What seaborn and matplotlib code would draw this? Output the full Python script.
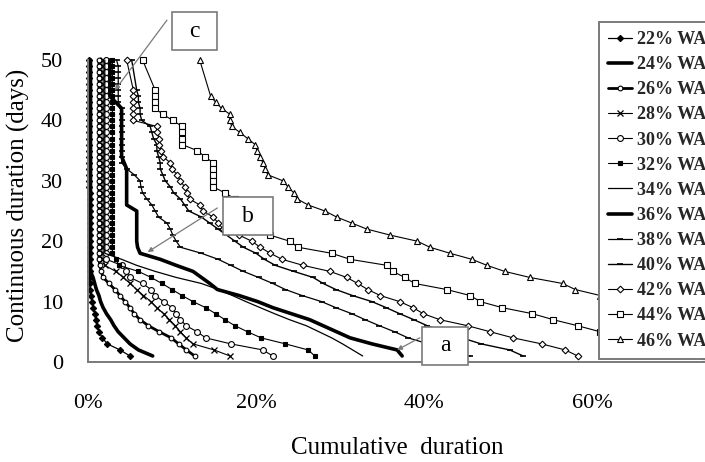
import matplotlib
matplotlib.use("Agg")
import matplotlib.pyplot as plt
from matplotlib.patches import Rectangle
import pandas as pd
import seaborn as sns

N = None

# Continuous duration thresholds (days), top of the curve first
DAYS = [50, 49, 48, 47, 46, 45, 44, 43, 42, 41,
        40, 39, 38, 37, 36, 35, 34, 33, 32, 31,
        30, 29, 28, 27, 26, 25, 24, 23, 22, 21,
        20, 19, 18, 17, 16, 15, 14, 13, 12, 11,
        10, 9, 8, 7, 6, 5, 4, 3, 2, 1]

LABELS = ["22% WA", "24% WA", "26% WA", "28% WA", "30% WA", "32% WA", "34% WA",
          "36% WA", "38% WA", "40% WA", "42% WA", "44% WA", "46% WA"]

# Cumulative duration (%) for each threshold in DAYS
wa22 = [0.1, 0.1, 0.1, 0.1, 0.1, 0.1, 0.1, 0.1, 0.1, 0.1,
        0.1, 0.1, 0.1, 0.1, 0.1, 0.1, 0.1, 0.1, 0.1, 0.1,
        0.1, 0.1, 0.2, 0.2, 0.2, 0.2, 0.2, 0.2, 0.2, 0.2,
        0.2, 0.2, 0.2, 0.2, 0.2, 0.2, 0.2, 0.2, 0.25, 0.3,
        0.5, 0.6, 0.8, 0.9, 1.1, 1.3, 1.7, 2.3, 3.8, 5.0]
wa24 = [0.3, 0.3, 0.3, 0.3, 0.3, 0.3, 0.3, 0.3, 0.3, 0.3,
        0.3, 0.3, 0.3, 0.3, 0.3, 0.3, 0.3, 0.3, 0.3, 0.3,
        0.3, 0.3, 0.3, 0.3, 0.3, 0.3, 0.3, 0.3, 0.3, 0.3,
        0.3, 0.3, 0.3, 0.3, 0.3, 0.3, 0.6, 0.8, 1.0, 1.3,
        1.5, 1.8, 2.2, 2.7, 3.1, 3.6, 4.3, 5.0, 6.0, 7.7]
wa26 = [1.3, 1.3, 1.3, 1.3, 1.3, 1.3, 1.3, 1.3, 1.3, 1.3,
        1.3, 1.3, 1.3, 1.3, 1.3, 1.3, 1.3, 1.3, 1.3, 1.3,
        1.3, 1.3, 1.3, 1.3, 1.3, 1.3, 1.3, 1.3, 1.3, 1.3,
        1.3, 1.3, 1.3, 1.3, 1.4, 1.6, 1.8, 2.5, 3.2, 3.8,
        4.4, 5.0, 5.5, 6.2, 7.2, 8.5, 9.9, 10.8, 11.7, 12.7]
wa28 = [1.8, 1.8, 1.8, 1.8, 1.8, 1.8, 1.8, 1.8, 1.8, 1.8,
        1.8, 1.8, 1.8, 1.8, 1.8, 1.8, 1.8, 1.8, 1.8, 1.8,
        1.8, 1.8, 1.8, 1.8, 1.8, 1.8, 1.8, 1.8, 1.8, 1.8,
        1.8, 1.8, 1.8, 1.8, 2.0, 3.3, 4.2, 5.0, 5.8, 6.6,
        7.5, 8.2, 9.0, 9.7, 10.4, 11.0, 11.7, 12.5, 15.0, 16.9]
wa30 = [2.2, 2.2, 2.2, 2.2, 2.2, 2.2, 2.2, 2.2, 2.2, 2.2,
        2.2, 2.2, 2.2, 2.2, 2.2, 2.2, 2.2, 2.2, 2.2, 2.2,
        2.2, 2.2, 2.2, 2.2, 2.2, 2.2, 2.2, 2.2, 2.2, 2.2,
        2.2, 2.2, 2.2, 2.2, 4.0, 4.5, 5.0, 6.5, 7.5, 8.0,
        9.0, 10.0, 10.5, 11.0, 11.7, 13.0, 14.0, 17.0, 20.8, 22.0]
wa32 = [2.9, 2.9, 2.9, 2.9, 2.9, 2.9, 2.9, 2.9, 2.9, 2.9,
        2.9, 2.9, 2.9, 2.9, 2.9, 2.9, 2.9, 2.9, 2.9, 2.9,
        2.9, 2.9, 2.9, 2.9, 2.9, 2.9, 2.9, 2.9, 2.9, 2.9,
        2.9, 2.9, 2.9, 3.3, 3.7, 6.0, 7.5, 8.8, 10.0, 11.2,
        12.5, 14.0, 15.2, 16.3, 17.5, 19.0, 20.6, 23.5, 26.2, 27.0]
wa34 = [2.0, 2.0, 2.0, 2.0, 2.0, 2.0, 2.0, 2.0, 2.0, 2.0,
        2.0, 2.0, 2.0, 2.0, 2.0, 2.0, 2.0, 2.0, 2.0, 2.0,
        2.0, 2.0, 2.0, 2.0, 2.0, 2.0, 2.0, 2.0, 2.0, 2.0,
        2.0, 2.0, 2.0, 4.0, 5.8, 8.0, 10.5, 13.5, 15.5, 17.2,
        18.8, 20.5, 22.2, 24.0, 26.0, 27.5, 29.0, 30.3, 31.5, 32.7]
wa36 = [2.6, 2.6, 2.6, 2.6, 2.6, 2.6, 2.6, 3.3, 4.0, 4.0,
        4.0, 4.0, 4.0, 4.0, 4.0, 4.0, 4.0, 4.3, 4.6, 4.6,
        4.6, 4.6, 4.6, 4.6, 4.6, 5.8, 5.8, 5.8, 5.8, 5.8,
        5.8, 5.9, 6.2, 8.6, 10.5, 12.5, 13.5, 14.5, 15.4, 18.0,
        20.2, 22.0, 24.2, 26.4, 28.0, 29.6, 31.2, 33.8, 36.8, 37.4]
wa38 = [3.4, 3.6, 3.6, 3.6, 3.6, 3.6, 3.6, 3.6, 4.0, 4.0,
        4.0, 4.0, 4.0, 4.0, 4.0, 4.0, 4.0, 4.0, 4.6, 5.5,
        6.2, 6.3, 6.5, 7.0, 7.6, 8.0, 8.4, 9.4, 9.8, 10.1,
        10.5, 11.0, 13.5, 15.5, 17.0, 18.5, 20.3, 22.0, 23.5, 25.5,
        27.8, 29.5, 31.4, 33.0, 34.7, 36.5, 38.1, 40.5, 42.8, 45.5]
wa40 = [5.2, N, N, N, N, 5.8, 6.0, 6.0, 6.2, 6.2,
        6.4, 7.4, 7.6, 7.8, 8.2, 8.2, 8.4, 8.6, 8.6, 8.9,
        9.2, 9.8, 10.2, 11.0, 11.5, 12.0, 13.5, 14.5, 15.5, 16.5,
        17.5, 18.5, 20.0, 21.0, 22.3, 24.5, 26.8, 28.0, 29.5, 31.5,
        33.8, 35.5, 37.1, 38.8, 40.4, 42.5, 44.5, 46.8, 50.2, 51.8]
wa42 = [4.6, N, N, N, N, 5.4, 5.4, 5.4, 5.4, 5.4,
        5.4, 8.2, 8.2, 8.5, 8.5, 8.7, 8.9, 9.8, 10.0, 10.6,
        11.0, 11.5, 11.8, 12.1, 13.3, 13.7, 14.9, 15.5, 16.1, 18.0,
        19.5, 20.5, 21.7, 23.1, 25.6, 28.8, 30.8, 32.1, 33.3, 34.8,
        37.1, 38.7, 39.9, 41.9, 45.2, 47.9, 50.6, 54.0, 56.8, 58.3]
wa44 = [6.5, N, N, N, N, 8.0, 8.0, 8.0, 8.0, 8.9,
        10.1, 11.2, 11.2, 11.2, 11.2, 13.0, 13.9, 14.9, 14.9, 14.9,
        14.9, 14.9, 16.3, 17.5, 18.0, 19.0, 20.0, 20.5, 21.0, 21.7,
        24.0, 25.0, 29.0, 31.2, 35.6, 36.3, 37.7, 38.9, 42.7, 45.5,
        46.7, 49.3, 52.9, 55.4, 58.3, 61.0, 64.0, 67.0, 70.0, 73.5]
wa46 = [13.3, N, N, N, N, N, 14.6, 15.2, 15.9, 16.9,
        16.9, 17.1, 18.1, 19.0, 19.9, 20.1, 20.5, 20.8, 21.1, 21.4,
        23.2, 23.8, 24.5, 24.9, 26.2, 28.2, 29.6, 31.4, 33.2, 36.0,
        39.2, 40.7, 43.1, 45.7, 47.5, 49.6, 52.6, 56.5, 58.0, 61.0,
        64.5, 68.5, 72.5, 76.5, N, N, N, N, N, N]

SERIES = [wa22, wa24, wa26, wa28, wa30, wa32, wa34,
          wa36, wa38, wa40, wa42, wa44, wa46]

# Line / marker style per series (black and white print style)
STYLES = {
    "22% WA": dict(lw=0.9, marker="D", ms=3.2, mfc="black", mew=0.8),
    "24% WA": dict(lw=2.6, marker=None),
    "26% WA": dict(lw=2.0, marker="o", ms=3.4, mfc="white", mew=0.8),
    "28% WA": dict(lw=0.8, marker="x", ms=3.8, mfc="black", mew=0.9),
    "30% WA": dict(lw=0.8, marker="o", ms=4.2, mfc="white", mew=0.8),
    "32% WA": dict(lw=0.8, marker="s", ms=3.0, mfc="black", mew=0.8),
    "34% WA": dict(lw=0.9, marker=None),
    "36% WA": dict(lw=2.6, marker=None),
    "38% WA": dict(lw=0.9, marker="_", ms=4.0, mfc="black", mew=1.2),
    "40% WA": dict(lw=1.0, marker="_", ms=4.0, mfc="black", mew=1.2),
    "42% WA": dict(lw=0.8, marker="D", ms=3.4, mfc="white", mew=0.8),
    "44% WA": dict(lw=0.8, marker="s", ms=4.8, mfc="white", mew=0.8),
    "46% WA": dict(lw=0.8, marker="^", ms=4.8, mfc="white", mew=0.8),
}

GRAY = "#7a7a7a"

sns.set_theme(style="white")
plt.rcParams["font.family"] = ["Liberation Serif", "DejaVu Serif"]

W, H = 705, 462
fig = plt.figure(figsize=(W / 100, H / 100), dpi=100)
fig.patch.set_facecolor("white")

x0_px, x60_px = 88, 592
y0_px, y50_px = 362, 60
ax = fig.add_axes([x0_px / W, (H - y0_px) / H, (W - x0_px) / W, (y0_px - y50_px) / H])
ax.set_facecolor("white")

px_per_pct = (x60_px - x0_px) / 60.0
ax.set_xlim(0, (W - x0_px) / px_per_pct)
ax.set_ylim(0, 50)

handles = []
for label, pct in zip(LABELS, SERIES):
    df = pd.DataFrame({"days": DAYS, "pct": pct}).dropna()
    st = STYLES[label]
    kw = dict(color="black", lw=st["lw"], clip_on=False)
    if st.get("marker"):
        kw.update(marker=st["marker"], markersize=st["ms"], markerfacecolor=st["mfc"],
                  markeredgecolor="black", markeredgewidth=st["mew"])
    sns.lineplot(data=df, x="pct", y="days", sort=False, estimator=None,
                 legend=False, ax=ax, **kw)
    line = ax.lines[-1]
    line.set_label(label)
    handles.append(line)

# Axes styling
sns.despine(ax=ax, top=True, right=True)
for side in ("left", "bottom"):
    ax.spines[side].set_color(GRAY)
    ax.spines[side].set_linewidth(1.4)
ax.set_xticks([0, 20, 40, 60])
ax.set_xticklabels(["0%", "20%", "40%", "60%"])
ax.set_yticks([0, 10, 20, 30, 40, 50])
ax.tick_params(axis="both", direction="out", length=7, width=1.2, color=GRAY,
               labelsize=16, labelcolor="black")
ax.tick_params(axis="x", pad=16)
ax.tick_params(axis="y", pad=11)
ax.set_xlabel("")
ax.set_ylabel("")
ax.grid(False)

fig.text(397 / W, 1 - 448 / H, "Cumulative  duration", ha="center", va="center",
         fontsize=18, color="black")
fig.text(18 / W, 1 - 205 / H, "Continuous duration (days)", ha="center", va="center",
         rotation=90, fontsize=18, color="black")

# Callout boxes with leader lines
callouts = [
    ("c", (10.0, 51.7, 5.4, 6.2), (9.4, 56.6), (3.2, 45.0)),
    ("b", (16.1, 21.0, 5.9, 6.3), (15.4, 25.5), (7.1, 18.2)),
    ("a", (39.8, -0.5, 5.4, 6.3), (39.5, 4.0), (36.8, 2.0)),
]
for txt, (bx, by, bw, bh), start, end in callouts:
    ax.annotate("", xy=end, xytext=start, annotation_clip=False,
                arrowprops=dict(arrowstyle="-|>", color=GRAY, lw=0.9,
                                mutation_scale=7, shrinkA=0, shrinkB=0), zorder=6)
    ax.add_patch(Rectangle((bx, by), bw, bh, facecolor="white", edgecolor=GRAY,
                           lw=1.2, clip_on=False, zorder=7))
    ax.text(bx + bw / 2, by + bh / 2, txt, ha="center", va="center",
            fontsize=17, color="black", zorder=8, clip_on=False)

leg = fig.legend(handles=handles, labels=LABELS, loc="upper left",
                 bbox_to_anchor=(599 / W, 1 - 22 / H), borderaxespad=0,
                 frameon=True, fancybox=False, framealpha=1, edgecolor=GRAY,
                 prop={"weight": "bold", "size": 13}, handlelength=1.3,
                 handletextpad=0.3, labelspacing=0.45, borderpad=0.5,
                 numpoints=1)
leg.get_frame().set_linewidth(1.4)

fig.savefig("out.png", dpi=100, facecolor="white")
